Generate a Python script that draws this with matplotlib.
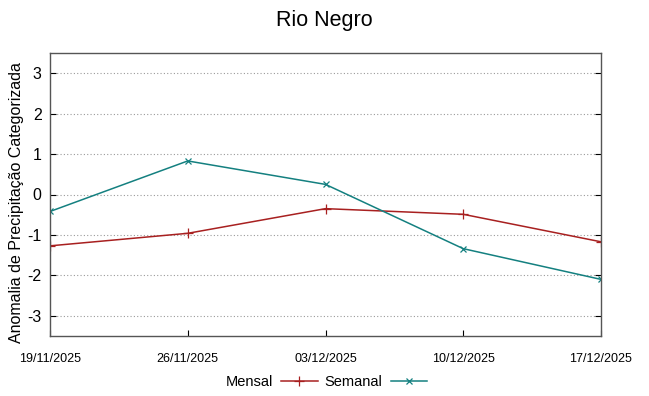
import matplotlib
matplotlib.use("Agg")
import matplotlib.pyplot as plt

dates = ["19/11/2025", "26/11/2025", "03/12/2025", "10/12/2025", "17/12/2025"]
mensal = [-1.27, -0.96, -0.35, -0.49, -1.17]
semanal = [-0.42, 0.83, 0.25, -1.34, -2.10]
yticks = [-3, -2, -1, 0, 1, 2, 3]

plt.rcParams['font.family'] = ['Liberation Sans', 'DejaVu Sans']

fig = plt.figure(figsize=(6.49, 3.96), dpi=100)
ax = fig.add_axes([50/649, 60/396, 551/649, 283/396])

x = list(range(len(dates)))
ax.plot(x, mensal, color='#a82020', lw=1.1, marker='+', ms=7, mew=0.9, label='Mensal')
ax.plot(x, semanal, color='#148080', lw=1.1, marker='x', ms=5, mew=0.9, label='Semanal')

ax.set_xlim(0, len(dates) - 1)
ax.set_ylim(-3.5, 3.5)
ax.set_yticks(yticks)
ax.set_yticklabels([str(v) for v in yticks], fontsize=11.5)
ax.set_xticks(x)
ax.set_xticklabels(dates, fontsize=9)
ax.tick_params(axis='y', direction='in', length=4, right=True, pad=6)
ax.tick_params(axis='x', direction='in', length=4, pad=12)
ax.grid(axis='y', linestyle=(0, (1, 2)), color='#9a9a9a', lw=0.8)
for s in ax.spines.values():
    s.set_color('#555555')
    s.set_linewidth(1.0)

ax.set_ylabel('Anomalia de Precipitação Categorizada', fontsize=11.5)
ax.yaxis.set_label_coords(-0.047, 0.473)
fig.suptitle('Rio Negro', fontsize=15.5, y=0.975)

leg = fig.legend(loc='center', bbox_to_anchor=(0.503, 0.035), ncol=2, frameon=False,
                 markerfirst=False, fontsize=10.5, handlelength=2.5, columnspacing=0.5,
                 handletextpad=0.55)

fig.savefig('out.png', dpi=100)
